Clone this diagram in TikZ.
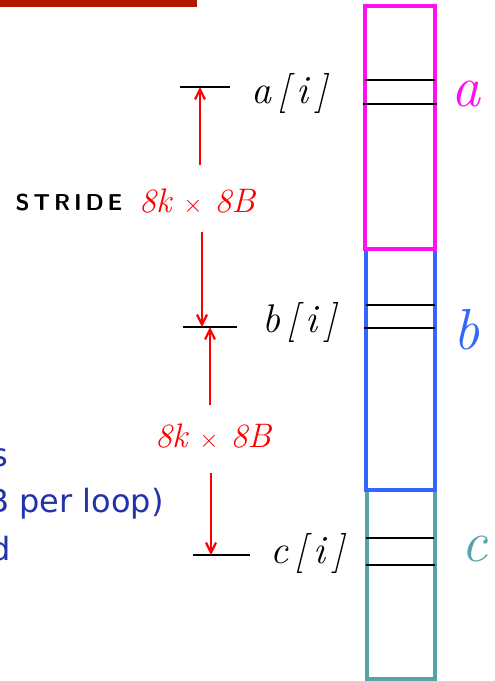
\documentclass[tikz,border=0pt]{standalone}
\usepackage{fontspec}
\newfontfamily\uifont{DejaVu Sans}
\usetikzlibrary{arrows.meta}
\definecolor{barred}{HTML}{B01800}
\definecolor{magA}{HTML}{FF10F0}
\definecolor{blueB}{HTML}{3366FF}
\definecolor{tealC}{HTML}{55A5A8}
\definecolor{txtblue}{HTML}{2233AA}
\definecolor{hred}{HTML}{FF0000}
\tikzset{
  memblock/.style={line width=3.5pt},
  slot/.style={draw=black,line width=1.8pt},
  tick/.style={draw=black,line width=2pt},
  dim/.style={draw=hred,line width=2.2pt,-{Straight Barb[length=10pt,width=10pt,line width=2.2pt]}},
  idx/.style={font=\fontsize{40}{40}\selectfont\itshape,inner sep=0pt},
  arrlabel/.style={font=\fontsize{58}{58}\selectfont\itshape,inner sep=0pt},
  redtxt/.style={text=hred,font=\fontsize{34}{34}\selectfont\itshape,inner sep=0pt},
  bluetxt/.style={text=txtblue,font=\uifont\fontsize{32}{32}\selectfont,inner sep=0pt,anchor=base west}
}
\begin{document}
\begin{tikzpicture}[x=1pt,y=-1pt]
\useasboundingbox (0,0) rectangle (495,681);
\clip (0,0) rectangle (495,681);
% top bar
\fill[barred] (0,0) rectangle (197,7);
% memory blocks
\draw[memblock,draw=tealC] (367,490) rectangle (435,679);
\draw[memblock,draw=blueB] (366,249) rectangle (435,490);
\draw[memblock,draw=magA] (365,6) rectangle (435,249);
% slots
\draw[slot] (365,80) -- (435,80);
\draw[slot] (363,104) -- (437,104);
\draw[slot] (366,305) -- (435,305);
\draw[slot] (364,328) -- (435,328);
\draw[slot] (366,538) -- (434,538);
\draw[slot] (366,565) -- (435,565);
% labels a b c
\node[arrlabel,text=magA] (la) at (466,94) {a};
\node[arrlabel,text=blueB] (lb) at (467,330) {b};
\node[arrlabel,text=tealC] (lc) at (475,549) {c};
% ticks
\coordinate (ta1) at (180,87); \coordinate (ta2) at (230,87);
\coordinate (tb1) at (183,327); \coordinate (tb2) at (237,327);
\coordinate (tc1) at (193,555); \coordinate (tc2) at (250,555);
\draw[tick] (ta1) -- (ta2);
\draw[tick] (tb1) -- (tb2);
\draw[tick] (tc1) -- (tc2);
\node[idx,anchor=west] (ai) at (251,93) {a\,[\,i\,]};
\node[idx,anchor=west] (bi) at (262,322) {b\,[\,i\,]};
\node[idx,anchor=west] (ci) at (270,553) {c\,[\,i\,]};
% dimension arrows
\coordinate (pa) at (200,87);
\coordinate (pb1) at (202,327);
\coordinate (pb2) at (210,327);
\coordinate (pc) at (211,555);
\coordinate (s1) at (200,165);
\coordinate (s2) at (202,232);
\coordinate (s3) at (210,405);
\coordinate (s4) at (211,473);
\draw[dim] (s1) -- (pa);
\draw[dim] (s2) -- (pb1);
\draw[dim] (s3) -- (pb2);
\draw[dim] (s4) -- (pc);
\node[inner sep=0pt,font=\sffamily\bfseries\fontsize{23}{23}\selectfont] (stride) at (69,203) {S\,T\,R\,I\,D\,E};
\node[redtxt] (d1) at (197,202) {8k $\times$ 8B};
\node[redtxt] (d2) at (213,437) {8k $\times$ 8B};
% cut-off blue text
\node[bluetxt] (t1) at (-9,466) {s};
\node[bluetxt] (t2) at (-13,512) {B per loop)};
\node[bluetxt] (t3) at (-10,560) {d};
\end{tikzpicture}
\end{document}
